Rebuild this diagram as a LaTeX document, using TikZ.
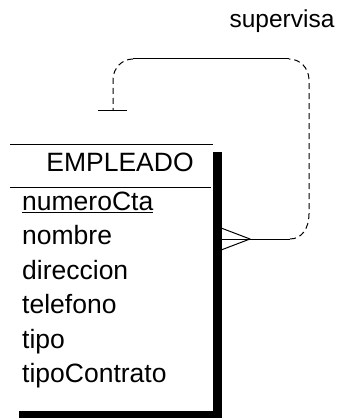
\documentclass[tikz,border=0pt]{standalone}
\usepackage{fontspec}
\setmainfont{Liberation Sans}
\usetikzlibrary{calc,shadows}

\begin{document}
\begin{tikzpicture}[x=1pt,y=-1pt,line cap=butt,line join=round,
  entbox/.style={fill=white,inner sep=0pt,minimum width=203pt,minimum height=266pt,
    drop shadow={shadow xshift=9pt,shadow yshift=-7pt,opacity=1,fill=black}},
  enttitle/.style={font=\fontsize{26.5}{30}\selectfont,anchor=base,inner sep=0pt},
  attr/.style={font=\fontsize{26.5}{30}\selectfont,anchor=base west,inner sep=0pt},
  rel/.style={line width=1pt},
  relopt/.style={line width=1pt,dash pattern=on 6pt off 4pt}]
  \useasboundingbox (0,0) rectangle (347,420);

  % ---- entity EMPLEADO ----
  \node[entbox] (emp) at (111.5,278) {};
  \draw[rel] (emp.north west) -- (emp.north east);
  \node[enttitle] (empTitle) at (120,171) {EMPLEADO};
  \draw[rel] (10,187) -- (211,187);

  % attributes
  \foreach \name [count=\i from 0] in {\underline{numeroCta},nombre,direccion,telefono,tipo,tipoContrato}
    \node[attr] (attr\i) at (22,210.5+34.4*\i) {\name};

  % ---- recursive relationship ----
  \coordinate (cfTip) at (250,239);
  \coordinate (bendR) at (290,239);
  \coordinate (tickC) at (113,110);
  % crow's foot on EMPLEADO
  \draw[rel] (emp.east |- cfTip) -- (bendR);
  \draw[rel] ($(emp.east |- cfTip)+(0,-14)$) -- (cfTip) -- ($(emp.east |- cfTip)+(0,14)$);
  % loop over the box
  \draw[relopt] (bendR) .. controls (302,239) and (309,228) .. (309,214) -- (309,80)
    .. controls (309,68) and (300,59) .. (289,59);
  \draw[rel] (289,59) -- (133,59);
  \draw[relopt] (133,59) .. controls (122,59) and (113,68) .. (113,80) -- (tickC);
  \draw[rel] ($(tickC)+(-15,0)$) -- ($(tickC)+(14,0)$);

  \node[font=\fontsize{24.5}{28}\selectfont,anchor=base,inner sep=0pt] (relName) at (282,28) {supervisa};
\end{tikzpicture}
\end{document}
